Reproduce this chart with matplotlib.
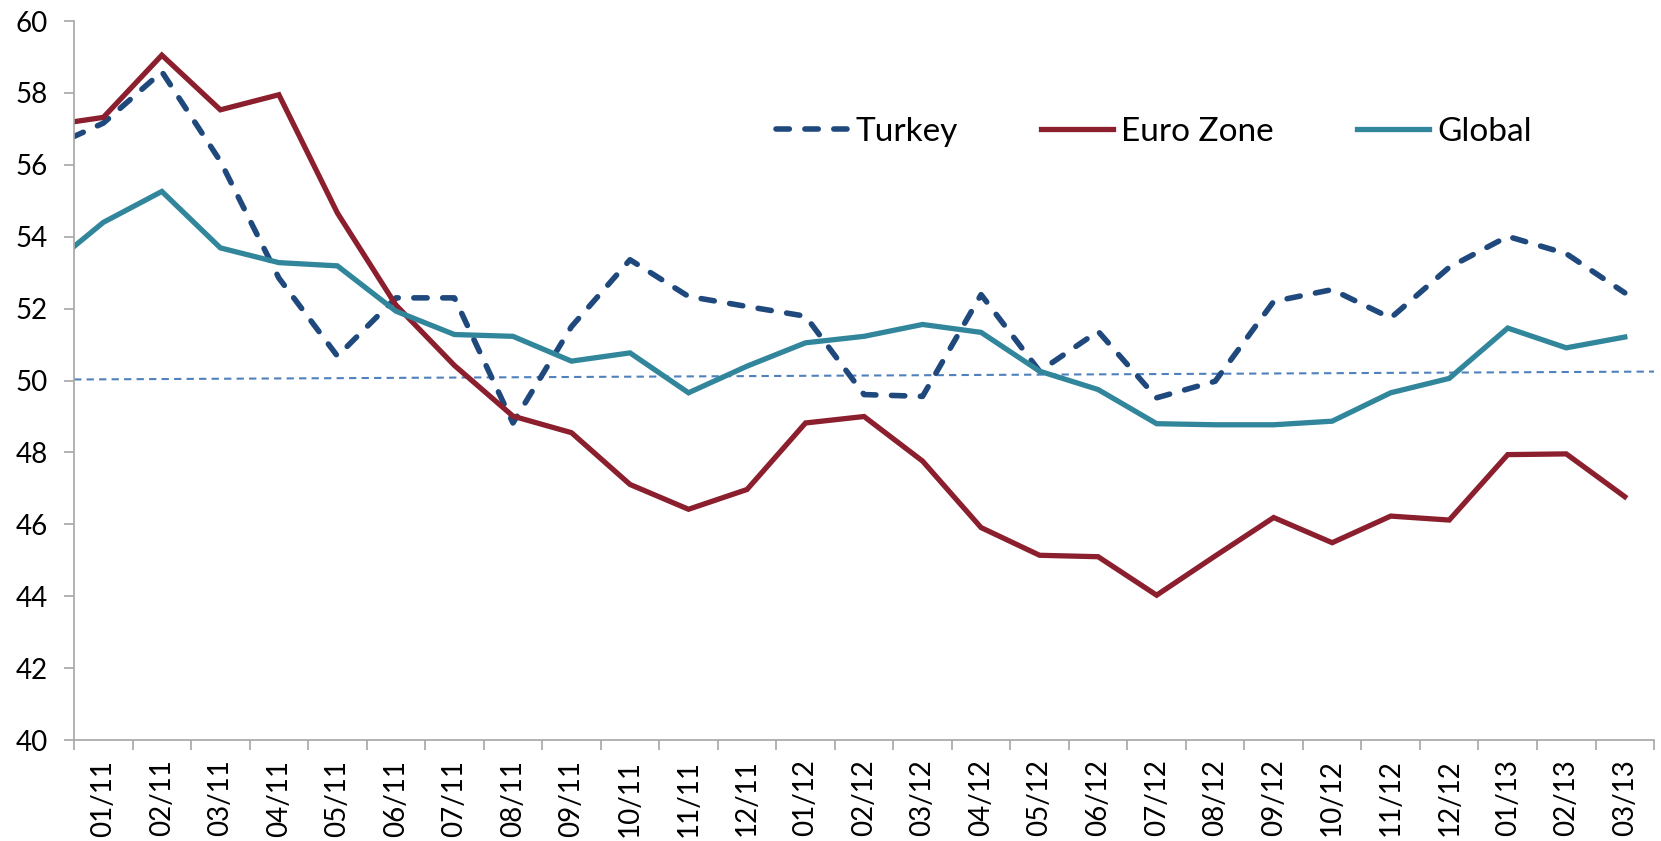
import matplotlib.pyplot as plt
import numpy as np

plt.rcParams['font.family'] = ['Lato', 'DejaVu Sans']

# months; the first one (12/10) only shows as the line start on the axis edge
months = ['12/10',
          '01/11', '02/11', '03/11', '04/11', '05/11', '06/11', '07/11', '08/11', '09/11',
          '10/11', '11/11', '12/11', '01/12', '02/12', '03/12', '04/12', '05/12', '06/12',
          '07/12', '08/12', '09/12', '10/12', '11/12', '12/12', '01/13', '02/13', '03/13']

turkey = [56.42,
          57.16, 58.59, 56.10, 52.85, 50.68, 52.30, 52.30, 48.82, 51.50,
          53.36, 52.34, 52.06, 51.79, 49.61, 49.56, 52.39, 50.26, 51.37,
          49.52, 49.98, 52.20, 52.53, 51.74, 53.15, 54.01, 53.53, 52.44]

euro_zone = [57.08,
             57.32, 59.05, 57.53, 57.95, 54.66, 52.10, 50.42, 49.01, 48.55,
             47.11, 46.42, 46.97, 48.82, 49.00, 47.76, 45.91, 45.14, 45.10,
             44.03, 45.12, 46.19, 45.49, 46.23, 46.12, 47.94, 47.96, 46.77]

global_pmi = [53.06,
              54.40, 55.26, 53.69, 53.28, 53.19, 51.93, 51.28, 51.23, 50.54,
              50.77, 49.66, 50.40, 51.05, 51.23, 51.56, 51.34, 50.26, 49.75,
              48.80, 48.77, 48.77, 48.87, 49.66, 50.06, 51.46, 50.91, 51.21]

# thin 50 reference line (slightly tilted in the original)
ref_start, ref_end = 50.03, 50.25

x = np.arange(len(months)) - 1
shown = months[1:]

fig = plt.figure(figsize=(16.61, 8.41), dpi=100)
ax = fig.add_axes([0.0446, 0.120, 0.9512, 0.855])

ax.plot([-0.5, len(shown) - 0.5], [ref_start, ref_end], color='#4F81BD',
        linewidth=1.5, dashes=(3.5, 2.5))

ax.plot(x, turkey, color='#1F497D', linewidth=4.0, dashes=(2.4, 2.8),
        dash_capstyle='round', solid_joinstyle='round', label='Turkey')
ax.plot(x, euro_zone, color='#8B1F2E', linewidth=3.8,
        solid_joinstyle='miter', label='Euro Zone')
ax.plot(x, global_pmi, color='#31869B', linewidth=3.8,
        solid_joinstyle='miter', label='Global')

ax.set_xlim(-0.5, len(shown) - 0.5)
ax.set_ylim(40, 60)
ax.set_yticks(np.arange(40, 61, 2))

ax.set_xticks(np.arange(len(shown)))
ax.set_xticklabels(shown, rotation=90)
ax.set_xticks(np.arange(len(shown) + 1) - 0.5, minor=True)
ax.tick_params(axis='x', which='major', length=0, pad=14, labelsize=20)
ax.tick_params(axis='x', which='minor', length=7, width=1.2, color='#A6A6A6')
ax.tick_params(axis='y', length=7, width=1.2, color='#A6A6A6', pad=12, labelsize=20)

for s in ['top', 'right']:
    ax.spines[s].set_visible(False)
for s in ['left', 'bottom']:
    ax.spines[s].set_color('#A6A6A6')
    ax.spines[s].set_linewidth(1.2)

fig.legend(loc='center left', bbox_to_anchor=(0.467, 0.843), ncol=3,
           frameon=False, fontsize=24, borderpad=0, borderaxespad=0,
           handlelength=2.15, handletextpad=0.25, columnspacing=2.5)

fig.savefig('out.png', dpi=100)
